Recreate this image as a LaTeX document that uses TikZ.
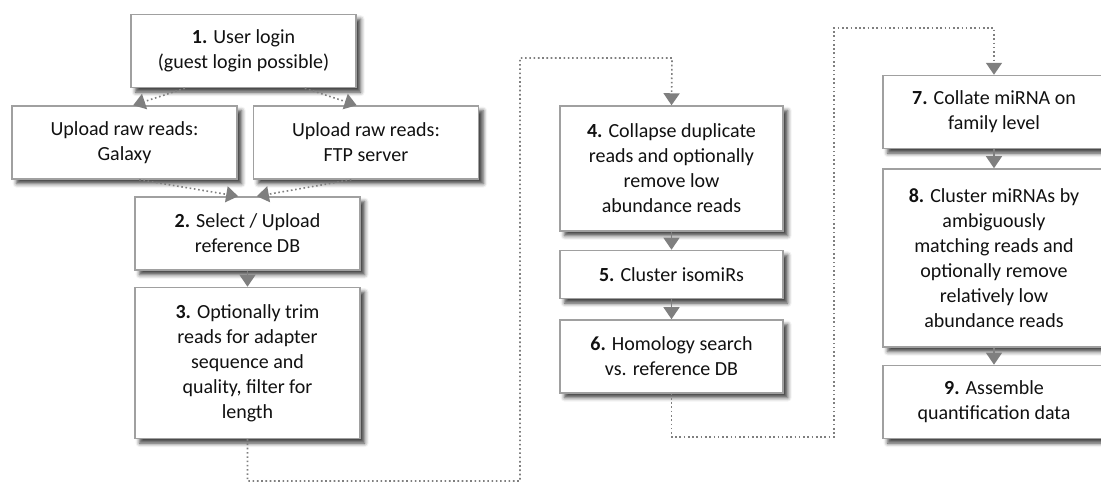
\documentclass[tikz,border=0pt]{standalone}
\usepackage{fontspec}
\setmainfont{Carlito}
\usepackage{tikz}
\usetikzlibrary{positioning,arrows.meta,shadows.blur}

\definecolor{boxline}{HTML}{A0A0A0}
\definecolor{tipgray}{HTML}{7F7F7F}
\definecolor{dotgray}{HTML}{858585}
\definecolor{txt}{HTML}{111111}

\begin{document}
\begin{tikzpicture}[x=0.75pt, y=-0.75pt,
    font=\fontsize{15pt}{18.75pt}\selectfont, text=txt]
    \tikzstyle{box}=[draw=boxline, line width=1.1pt, fill=white,
                     minimum width=168.75pt, minimum height=54.75pt,
                     align=center, inner sep=2pt,
                     blur shadow={shadow xshift=3.5pt, shadow yshift=-3.5pt,
                                  shadow blur radius=3pt, shadow opacity=75}]
    \tikzstyle{stepline}=[-{Triangle[width=12pt, length=9pt]}, draw=tipgray,
                      line width=1pt, tipgray]
    \tikzstyle{flow}=[-{Triangle[width=12pt, length=9pt]}, draw=dotgray,
                      line width=1.2pt, dotted, tipgray]

    \useasboundingbox (0,0) rectangle (1101,483);

    % left column
    \node[box] (login) at (243.5,51)
        {\textbf{1.} User login\\(guest login possible)};
    \node[box] (galaxy) at (124.5,142.5) {Upload raw reads:\\Galaxy};
    \node[box, right=11.25pt of galaxy] (ftp) {Upload raw reads:\\FTP server};
    \node[box] (refdb) at (247.5,233.5) {\textbf{2.} Select / Upload\\reference DB};
    \node[box, below=12pt of refdb, minimum height=113.25pt] (trim)
        {\textbf{3.} Optionally trim\\reads for adapter\\sequence and\\quality, filter for\\length};

    % middle column
    \node[box, minimum width=167.25pt, minimum height=93.75pt] (collapse)
        at (671.5,168.5)
        {\textbf{4.} Collapse duplicate\\reads and optionally\\remove low\\abundance reads};
    \node[box, below=13.5pt of collapse, minimum width=167.25pt,
          minimum height=36pt] (isomir) {\textbf{5.} Cluster isomiRs};
    \node[box, below=15pt of isomir, minimum width=167.25pt] (homol)
        {\textbf{6.} Homology search\\vs. reference DB};

    % right column
    \node[box, minimum width=166.5pt] (family) at (994,112)
        {\textbf{7.} Collate miRNA on\\family level};
    \node[box, below=14.25pt of family, minimum width=166.5pt,
          minimum height=133.5pt] (cluster)
        {\textbf{8.} Cluster miRNAs by\\ambiguously\\matching reads and\\optionally remove\\relatively low\\abundance reads};
    \node[box, below=12.75pt of cluster, minimum width=166.5pt] (quant)
        {\textbf{9.} Assemble\\quantification data};

    % bends of the long dotted links
    \coordinate (bendA) at (520,481);
    \coordinate (bendB) at (672,58);
    \coordinate (bendC) at (834,437);
    \coordinate (bendD) at (994,28);

    \draw[flow] ([xshift=-44pt]login.south) -- ([xshift=6.5pt]galaxy.north);
    \draw[flow] ([xshift=46pt]login.south) -- ([xshift=-7pt]ftp.north);
    \draw[flow] ([xshift=11pt]galaxy.south) -- ([xshift=-7pt]refdb.north);
    \draw[flow] ([xshift=-11pt]ftp.south) -- ([xshift=7pt]refdb.north);
    \draw[stepline] (refdb) -- (trim);
    \draw[flow] (trim.south) |- (bendA) |- (bendB) -- (collapse.north);
    \draw[stepline] (collapse) -- (isomir);
    \draw[stepline] (isomir) -- (homol);
    \draw[flow] (homol.south) |- (bendC) |- (bendD) -- (family.north);
    \draw[stepline] (family) -- (cluster);
    \draw[stepline] (cluster) -- (quant);
\end{tikzpicture}
\end{document}
